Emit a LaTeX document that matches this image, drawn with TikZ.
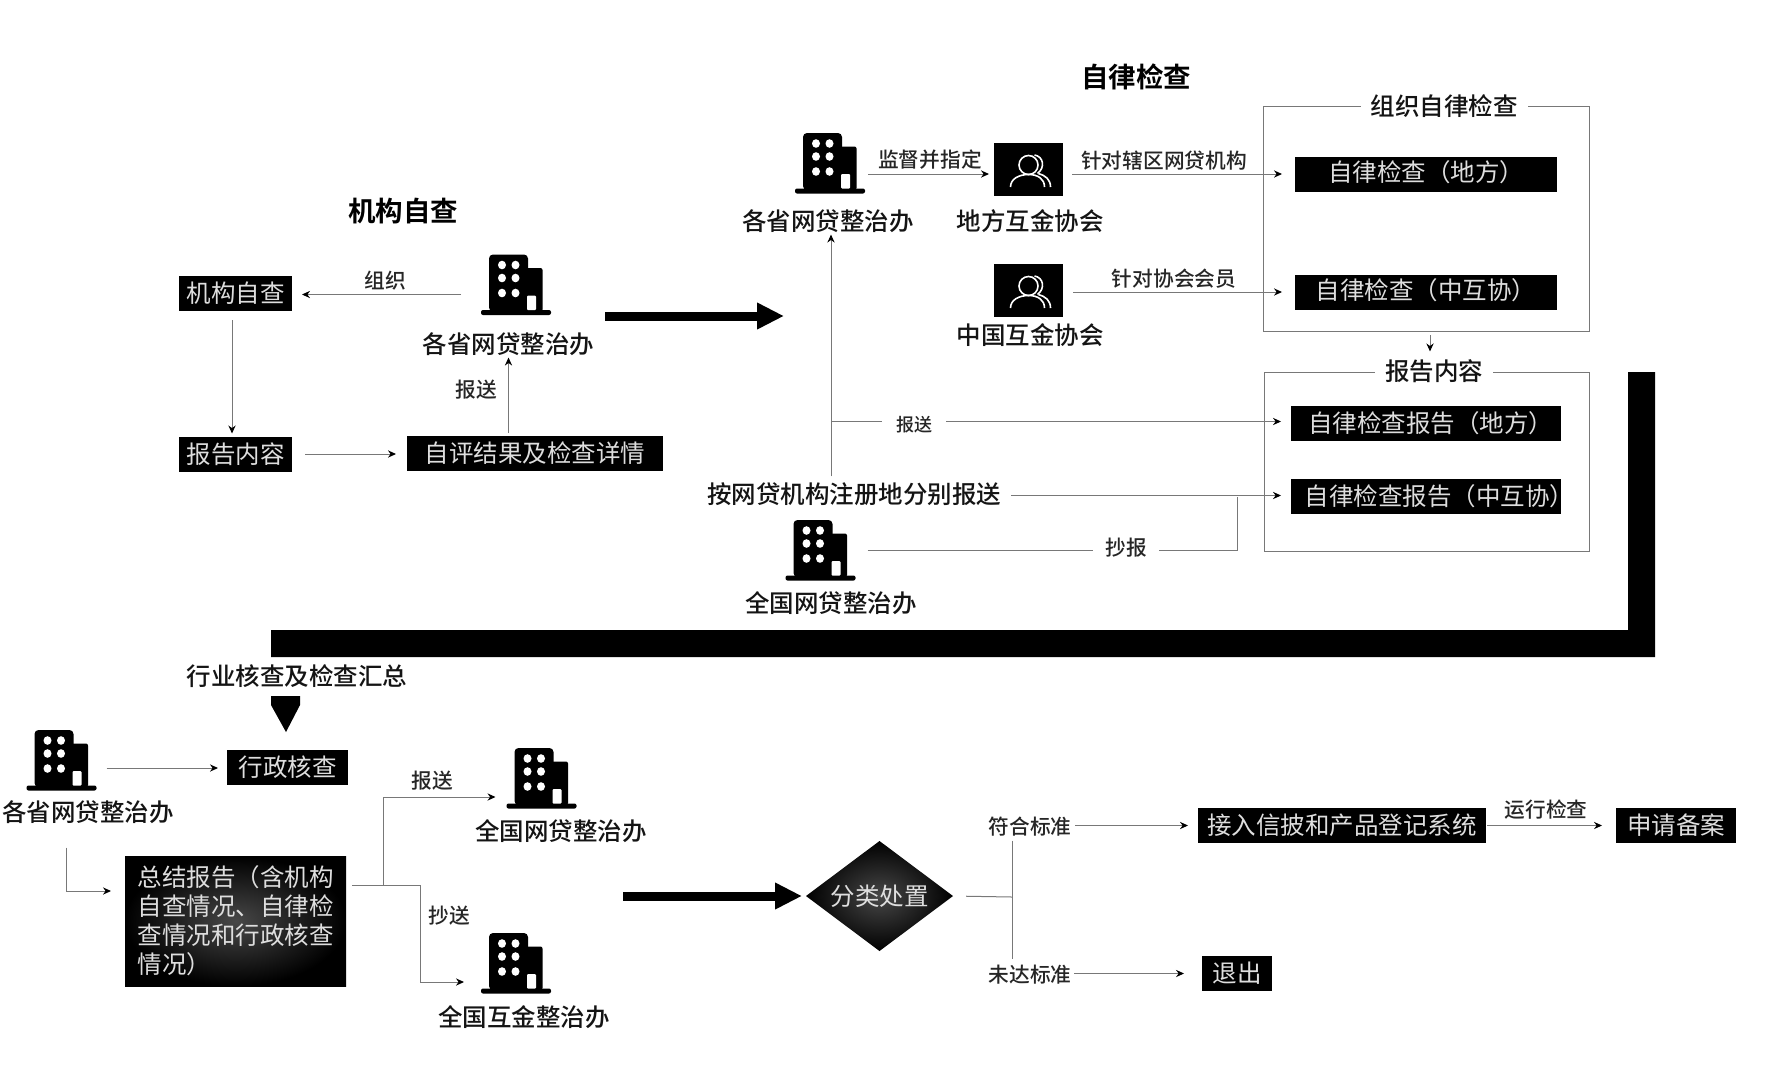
\documentclass[tikz,border=0pt]{standalone}
\usepackage{fontspec}
\usepackage{xcolor}
\usetikzlibrary{arrows.meta,shapes.geometric}
\setmainfont{Noto Sans CJK SC Medium}[BoldFont={Noto Sans CJK SC Bold}]
\newfontfamily\boxfont{Noto Sans CJK SC}
\definecolor{flowgray}{RGB}{120,120,120}
\definecolor{boxtext}{RGB}{222,222,222}
\newcommand{\sizeA}{\fontsize{12.25}{14.5}\selectfont}
\newcommand{\sizeB}{\fontsize{10.35}{12}\selectfont}
\newcommand{\building}[2]{\node[bldgbox] (#1) at (#2) {}; \pic at (#1) {bldgicon};}
\newcommand{\people}[2]{\node[peoplebox] (#1) at (#2) {}; \pic at (#1) {peopleicon};}
\tikzset{
    blackbox/.style={fill=black, text=boxtext, font=\boxfont\sizeA, inner sep=0pt, outer sep=0pt, minimum height=17.5pt},
    shadebox/.style={inner color=black!72, outer color=black, text=boxtext, font=\boxfont\sizeA, inner sep=0pt, outer sep=0pt},
    lbl/.style={font=\sizeA, text=black!92, inner sep=1pt, outer sep=0pt},
    tag/.style={font=\sizeB, text=black!85, inner sep=1pt, outer sep=0pt},
    headline/.style={font=\fontsize{13.75}{16}\selectfont\bfseries, inner sep=1pt, outer sep=0pt},
    groupbox/.style={draw=flowgray, line width=0.5pt, inner sep=0pt, outer sep=0pt},
    grouptitle/.style={fill=white, font=\sizeA, text=black!92, inner xsep=5pt, inner ysep=1pt, outer sep=0pt},
    flow/.style={draw=flowgray, line width=0.5pt, -{Stealth[black,length=4pt,width=3.6pt]}},
    plainline/.style={draw=flowgray, line width=0.5pt},
    bigarrow/.style={draw=black, line width=4.5pt, -{Triangle[black,length=13.5pt,width=12.5pt]}},
    bldgbox/.style={minimum width=35pt, minimum height=31pt, inner sep=0pt, outer sep=0pt},
    peoplebox/.style={fill=black, minimum width=34.5pt, minimum height=26.5pt, inner sep=0pt, outer sep=0pt},
    bldgicon/.pic={
        \fill[black, rounded corners=1pt] (-35,25.5) rectangle (35,30.5);
        \fill[black, rounded corners=2pt] (-27,-30) rectangle (12,27);
        \fill[black, rounded corners=1pt] (10,-16.5) rectangle (26.5,27);
        \foreach \wx in {-14,-0.5} \foreach \wy in {-19.5,-6.5,8.5}
            \fill[white] (\wx,\wy) ellipse (4 and 4.3);
        \fill[white, rounded corners=0.5pt] (11,11) rectangle (20,25.5);
    },
    peopleicon/.pic={
        \draw[white, line width=0.8pt] (0,-4.5) ellipse (9.5 and 9.5);
        \draw[white, line width=0.8pt] (-18,17.5) .. controls (-18,9) and (-9,5) .. (0,5) .. controls (9,5) and (16,9) .. (16,17.5);
        \draw[white, line width=0.8pt] (6,-14.5) .. controls (15,-13) and (17,-2) .. (9,4);
        \draw[white, line width=0.8pt] (10,4) .. controls (17,6) and (22,10) .. (22,17.5);
    },
}
\begin{document}
\begin{tikzpicture}[x=0.5pt, y=-0.5pt]
    \useasboundingbox (0,0) rectangle (1772,1067);

    % Self check
    \node[headline] (selftitle) at (403,211) {机构自查};
    \node[blackbox, minimum width=56.5pt] (selfbox) at (235.5,293.5) {机构自查};
    \node[blackbox, minimum width=56.5pt] (reportbox) at (235.5,454) {报告内容};
    \node[blackbox, minimum width=128pt] (evalbox) at (535,453.5) {\raisebox{1.5pt}{自评结果及检查详情}};
    \building{shengA}{516,284.5}
    \node[lbl] (shengAname) at (508.5,344) {各省网贷整治办};
    \node[tag] (zuzhi) at (385,281) {组织};
    \node[tag] (baosongA) at (476,390) {报送};
    \draw[flow, shorten <=10pt, shorten >=5pt] ([yshift=-0.5pt]shengA.west |- selfbox.east) -- ([yshift=-0.5pt]selfbox.east);
    \draw[flow, shorten <=4.5pt, shorten >=1.5pt] ([xshift=-1.75pt]selfbox.south) -- ([xshift=-1.75pt]reportbox.north);
    \draw[flow, shorten <=6.5pt, shorten >=5.5pt] (reportbox.east) -- (evalbox.west |- reportbox.east);
    \draw[flow, shorten <=1.5pt] (shengAname.south |- evalbox.north) -- (shengAname.south);

    % Arrow to second stage
    \coordinate (bigAstart) at (605,316);
    \coordinate (bigAend) at (784,316);
    \draw[bigarrow] (bigAstart) -- (bigAend);

    % Discipline check
    \node[headline] (zilvtitle) at (1136,77) {自律检查};
    \node[groupbox, minimum width=162.75pt, minimum height=112.5pt] (zilvgroup) at (1426.25,218.5) {};
    \node[grouptitle] (zilvhead) at (1444,106) {组织自律检查};
    \building{shengB}{830,163}
    \node[lbl] (shengBname) at (828,221) {各省网贷整治办};
    \people{difang}{1028.5,169.5}
    \node[lbl] (difangname) at (1030,221) {地方互金协会};
    \people{zhongguo}{1028.5,290.5}
    \node[lbl] (zhongguoname) at (1030,335) {中国互金协会};
    \node[blackbox, minimum width=131pt] (zilvA) at (1426,174) {\raisebox{2.5pt}{自律检查（地方）}};
    \node[blackbox, minimum width=131pt] (zilvB) at (1426,292) {\raisebox{2.5pt}{自律检查（中互协）}};
    \node[tag] (jiandu) at (930,160) {监督并指定};
    \node[tag] (xiaqu) at (1164,161) {针对辖区网贷机构};
    \node[tag] (huiyuan) at (1174,279) {针对协会会员};
    \draw[flow, shorten <=1.5pt, shorten >=2.5pt] (shengB.east |- zilvA.west) -- (difang.west |- zilvA.west);
    \draw[flow, shorten <=4.5pt, shorten >=6.5pt] (difang.east |- zilvA.west) -- (zilvA.west);
    \draw[flow, shorten <=5pt, shorten >=6.5pt] (zhongguo.east |- zilvB.west) -- (zilvB.west);

    % Report content
    \node[groupbox, minimum width=162.5pt, minimum height=89.5pt] (rptgroup) at (1426.5,461.5) {};
    \node[grouptitle] (rpthead) at (1434,371) {报告内容};
    \node[blackbox, minimum width=135pt] (rptA) at (1426,423.5) {\hspace*{4.5pt}自律检查报告（地方）};
    \node[blackbox, minimum width=135pt] (rptB) at (1426,496.5) {\makebox[135pt][l]{\hspace*{6.75pt}自律检查报告（中互协）}};
    \node[lbl] (anzhuce) at (854,494) {按网贷机构注册地分别报送};
    \building{quanguoA}{820.5,550}
    \node[lbl] (quanguoAname) at (831,603) {全国网贷整治办};
    \coordinate (chaojoin) at (1237.5,496.5);
    \draw[flow, shorten <=2pt, shorten >=3pt] ([xshift=-2pt]rpthead.north |- zilvgroup.south) -- ([xshift=-2pt]rpthead.north);
    \draw[flow, shorten <=2pt] ([xshift=1.5pt]shengBname.south |- anzhuce.north) -- ([xshift=1.5pt]shengBname.south);
    \draw[flow, shorten >=5pt] ([xshift=1.5pt, yshift=1pt]shengBname.south |- rptA.west) -- ([yshift=1pt]rptA.west);
    \draw[flow, shorten <=4pt, shorten >=5pt] ([yshift=0.5pt]anzhuce.east |- rptB.west) -- ([yshift=0.5pt]rptB.west);
    \draw[plainline, shorten <=6pt] ([yshift=0.5pt]quanguoA.east |- rptgroup.south) -| (chaojoin);
    \node[tag, fill=white, font=\fontsize{9}{11}\selectfont, inner xsep=7pt] (baosongB) at (914,425) {报送};
    \node[tag, fill=white, inner xsep=6pt] (chaobao) at (1126,548) {抄报};

    % Band to third stage
    \fill[black] (271,630) -- (1628,630) -- (1628,372) -- (1655,372) -- (1655,657) -- (271,657) -- cycle;

    % Industry check
    \node[lbl] (hangye) at (297,676) {行业核查及检查汇总};
    \fill[black] (271,696) -- (300,696) -- (300,705) -- (286,732) -- (271,705) -- cycle;
    \building{shengC}{61.5,760}
    \node[lbl] (shengCname) at (88,812) {各省网贷整治办};
    \node[blackbox, minimum width=60.5pt] (hecha) at (287.5,767) {行政核查};
    \node[shadebox, minimum width=110.5pt, minimum height=65pt, align=left] (zongjie) at (235.5,921) {总结报告（含机构\\自查情况、自律检\\查情况和行政核查\\情况）};
    \building{quanguoB}{541.5,778}
    \node[lbl] (quanguoBname) at (561,831) {全国网贷整治办};
    \building{quanguoC}{516,963}
    \node[lbl] (quanguoCname) at (524,1017) {全国互金整治办};
    \node[tag] (baosongC) at (432,781) {报送};
    \node[tag] (chaosong) at (449,916) {抄送};
    \coordinate (forkup) at (383.5,885);
    \coordinate (forkdown) at (420,982);
    \draw[flow, shorten <=5pt, shorten >=4.5pt] ([yshift=-0.5pt]shengC.east |- hecha.west) -- ([yshift=-0.5pt]hecha.west);
    \draw[flow, shorten <=11pt, shorten >=7pt] ([xshift=-11pt]shengCname.south) |- ([yshift=15pt]zongjie.west);
    \draw[flow, shorten >=5.5pt] (forkup) |- ([yshift=-9.5pt]quanguoB.west);
    \draw[flow, shorten <=3pt, shorten >=8.5pt] ([yshift=18pt]zongjie.east) -| (forkdown) -- (quanguoC.west |- forkdown);

    % Arrow to classification
    \coordinate (bigBstart) at (623,896);
    \coordinate (bigBend) at (802,896);
    \draw[bigarrow] (bigBstart) -- (bigBend);

    % Classification
    \node[shadebox, shape=diamond, aspect=1.33, minimum width=73.5pt, minimum height=55pt] (fenlei) at (879.5,896) {分类处置};
    \node[tag] (fuhe) at (1030,827) {符合标准};
    \node[tag] (weida) at (1030,975) {未达标准};
    \node[blackbox, minimum width=144pt] (jieru) at (1342,825.5) {接入信披和产品登记系统};
    \node[blackbox, minimum width=60pt] (shenqing) at (1676,825.5) {申请备案};
    \node[blackbox, minimum width=35pt] (tuichu) at (1237,973.5) {退出};
    \node[tag] (yunxing) at (1546,810) {运行检查};
    \coordinate (splitmid) at (1012,897);
    \draw[plainline, shorten <=6.5pt] (fenlei.east) -- (splitmid);
    \draw[plainline, shorten <=1pt, shorten >=2pt] (splitmid |- fuhe.south) -- (splitmid |- weida.north);
    \draw[flow, shorten <=1pt, shorten >=5pt] (fuhe.east |- jieru.west) -- (jieru.west);
    \draw[flow, shorten <=0.5pt, shorten >=7pt] (jieru.east) -- (shenqing.west);
    \draw[flow, shorten <=0.5pt, shorten >=9pt] (weida.east |- tuichu.west) -- (tuichu.west);
\end{tikzpicture}
\end{document}
